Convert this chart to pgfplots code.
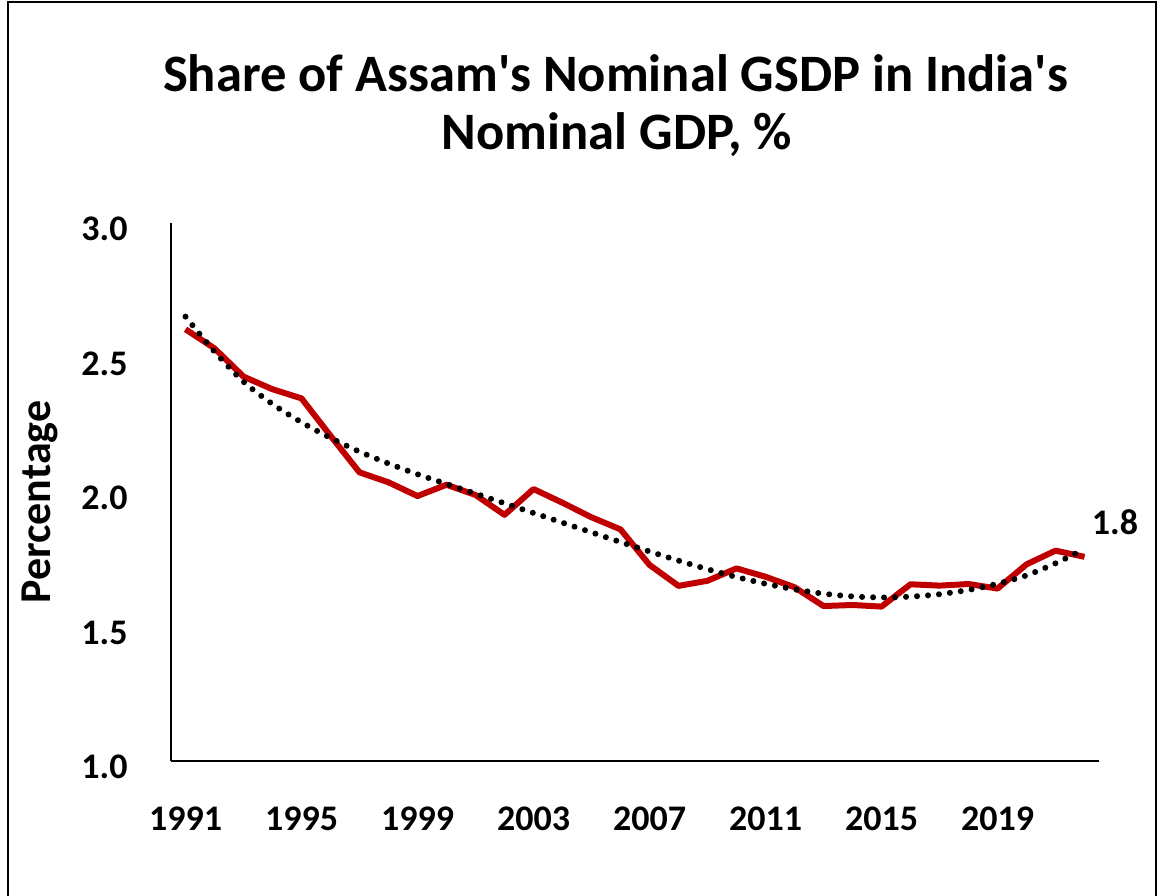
\documentclass[border=0pt]{standalone}
\usepackage{fontspec}
\setmainfont{Carlito}
\usepackage{pgfplots}
\pgfplotsset{compat=1.18}
\definecolor{exred}{HTML}{C00000}
\begin{document}
\begin{tikzpicture}[x=1pt,y=1pt]
\path[use as bounding box] (0,0) rectangle (580,447.5);
\draw[line width=0.8pt] (4,-1) -- (4,446.5) -- (578,446.5) -- (578,-1);
\node[font=\bfseries\fontsize{26.3}{31}\selectfont, anchor=base, inner sep=0pt] at (307.75,401.5) {Share of Assam\textquotesingle s Nominal GSDP in India\textquotesingle s};
\node[font=\bfseries\fontsize{26.3}{31}\selectfont, anchor=base, inner sep=0pt] at (308.5,372.5) {Nominal GDP, \%};
\node[font=\bfseries\fontsize{22}{22}\selectfont, rotate=90, inner sep=0pt] at (20,196.5) {Percentage};
\begin{axis}[
  at={(85.5pt,67pt)}, anchor=south west,
  scale only axis, width=464pt, height=269pt,
  xmin=1990.5, xmax=2022.5, ymin=1, ymax=3,
  axis x line*=bottom, axis y line*=left,
  axis line style={line width=0.9pt, -},
  xtick={1991,1995,1999,2003,2007,2011,2015,2019},
  xticklabels={1991,1995,1999,2003,2007,2011,2015,2019},
  ytick={1,1.5,2,2.5,3},
  yticklabels={1.0,1.5,2.0,2.5,3.0},
  major tick length=0pt,
  tick label style={font=\bfseries\fontsize{18}{18}\selectfont, inner sep=0pt},
  xticklabel style={anchor=base, yshift=-34.5pt},
  yticklabel style={anchor=east, xshift=-21.5pt, yshift=-3pt},
  clip=false,
]
\addplot[exred, line width=3pt, line join=round] coordinates {
(1991,2.605) (1992,2.534) (1993,2.429) (1994,2.382) (1995,2.348)
(1996,2.209) (1997,2.073) (1998,2.036) (1999,1.985) (2000,2.027)
(2001,1.989) (2002,1.915) (2003,2.011) (2004,1.960) (2005,1.906)
(2006,1.861) (2007,1.729) (2008,1.651) (2009,1.670) (2010,1.716)
(2011,1.685) (2012,1.646) (2013,1.576) (2014,1.580) (2015,1.574)
(2016,1.657) (2017,1.652) (2018,1.658) (2019,1.641) (2020,1.731)
(2021,1.782) (2022,1.759)
};
\addplot[black, line width=3pt, line cap=round, dash pattern=on 0pt off 5.5pt, smooth] coordinates {
(1991,2.652) (1992,2.522) (1993,2.410) (1994,2.327) (1995,2.259)
(1996,2.201) (1997,2.150) (1998,2.106) (1999,2.066) (2000,2.030)
(2001,1.994) (2002,1.958) (2003,1.922) (2004,1.886) (2005,1.850)
(2006,1.814) (2007,1.779) (2008,1.745) (2009,1.713) (2010,1.684)
(2011,1.659) (2012,1.638) (2013,1.622) (2014,1.612) (2015,1.608)
(2016,1.611) (2017,1.620) (2018,1.636) (2019,1.659) (2020,1.690)
(2021,1.735) (2022,1.788)
};
\node[font=\bfseries\fontsize{18}{18}\selectfont, inner sep=0pt] at (axis cs:2023.05,1.888) {1.8};
\end{axis}
\end{tikzpicture}
\end{document}
